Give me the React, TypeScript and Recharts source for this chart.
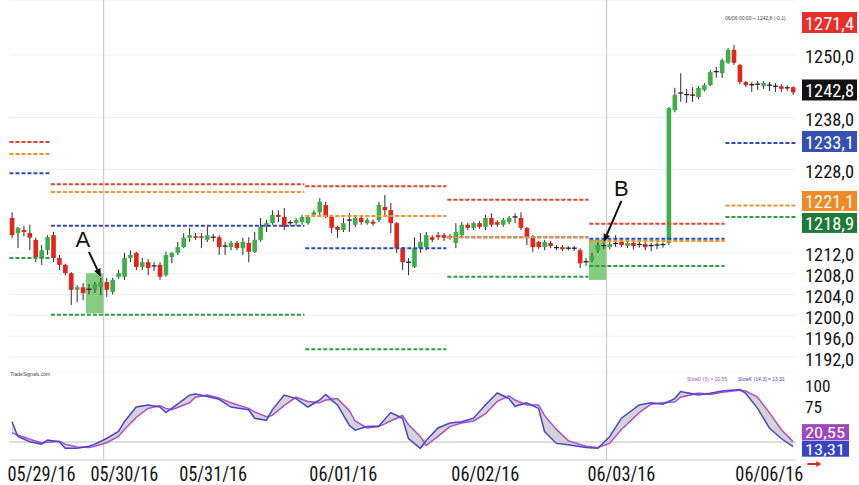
import React from 'react';
import {
  ComposedChart, Bar, XAxis, YAxis, ReferenceLine, ReferenceArea, Line, Area, Customized, CartesianGrid,
} from 'recharts';

const NARROW = '"Liberation Sans Narrow", "Roboto Condensed", "DejaVu Sans Condensed", "Liberation Sans", Arial, sans-serif';

// ---------- Candles (OHLC) ----------
const opens = [1218.7,1215.8,1216.4,1215.8,1214.5,1211.0,1212.5,1215.4,1211.0,1209.7,1208.1,1204.9,1205.4,1204.9,1204.9,1205.4,1206.4,1204.5,1207.4,1207.4,1211.0,1212.0,1209.3,1210.2,1209.3,1209.7,1207.7,1211.2,1212.0,1213.1,1214.9,1215.2,1215.2,1214.5,1215.0,1215.0,1213.1,1213.1,1213.9,1212.9,1213.9,1212.2,1214.5,1217.0,1217.7,1219.3,1218.9,1217.8,1217.7,1217.9,1217.7,1219.3,1219.8,1221.2,1218.9,1217.0,1216.4,1218.3,1217.4,1218.7,1217.7,1218.0,1218.3,1220.8,1220.2,1217.7,1212.9,1210.2,1209.3,1212.9,1213.1,1215.0,1215.4,1215.4,1215.2,1213.9,1215.4,1217.4,1216.8,1217.7,1217.0,1218.7,1217.9,1217.4,1217.9,1218.9,1218.7,1216.8,1214.9,1214.1,1213.1,1213.9,1213.0,1213.1,1212.9,1212.9,1212.5,1210.2,1210.6,1212.5,1213.3,1213.1,1213.7,1214.1,1213.3,1213.9,1213.5,1213.7,1213.3,1213.3,1213.5,1213.9,1239.4,1242.7,1242.3,1242.3,1241.9,1243.3,1244.2,1246.7,1246.5,1248.5,1251.0,1248.1,1244.8,1244.2,1244.4,1244.0,1244.2,1244.0,1244.0,1243.7,1243.8];
const highs = [1219.8,1217.0,1217.2,1217.4,1214.9,1213.5,1215.4,1216.0,1211.6,1209.9,1208.3,1205.8,1206.2,1206.0,1206.4,1207.2,1207.2,1207.2,1208.7,1212.0,1212.5,1212.2,1211.0,1210.8,1210.2,1210.2,1212.2,1212.2,1214.1,1215.8,1216.8,1215.8,1215.8,1217.0,1215.6,1215.4,1214.1,1214.3,1214.3,1214.9,1215.0,1216.0,1218.7,1218.3,1220.2,1220.2,1220.6,1218.3,1218.7,1219.3,1219.3,1220.2,1222.5,1221.8,1219.3,1217.2,1218.7,1219.6,1219.2,1219.2,1218.7,1218.4,1221.8,1223.1,1221.6,1217.9,1213.1,1211.0,1215.0,1215.8,1216.0,1215.4,1216.0,1215.8,1215.6,1217.7,1217.9,1217.8,1218.0,1218.1,1219.3,1219.6,1218.3,1218.7,1219.1,1219.6,1219.8,1217.0,1215.4,1214.3,1214.5,1214.3,1213.5,1213.5,1213.3,1213.3,1212.9,1211.0,1212.0,1214.0,1214.0,1214.3,1215.4,1214.5,1214.3,1214.3,1214.1,1214.1,1213.9,1214.0,1214.0,1240.0,1243.7,1246.5,1243.5,1243.8,1244.0,1244.6,1247.1,1247.7,1249.3,1251.3,1251.9,1248.3,1245.0,1244.8,1245.0,1245.0,1244.8,1244.6,1244.4,1244.2,1244.0];
const lows = [1214.9,1212.9,1215.2,1212.5,1210.2,1209.7,1211.6,1210.2,1208.7,1207.7,1202.0,1202.5,1202.9,1204.0,1204.3,1203.9,1203.5,1204.0,1207.0,1206.8,1210.2,1208.7,1208.7,1207.7,1208.5,1206.8,1207.4,1210.0,1211.6,1212.9,1214.1,1214.5,1212.9,1214.1,1214.2,1211.6,1211.6,1212.5,1212.5,1211.6,1210.2,1212.0,1214.1,1216.0,1217.4,1217.9,1216.4,1217.2,1217.2,1217.4,1217.4,1218.9,1218.9,1218.7,1215.8,1214.9,1216.0,1216.0,1217.0,1217.4,1217.4,1217.2,1217.9,1218.9,1215.8,1212.0,1208.7,1207.7,1209.1,1212.0,1212.5,1214.1,1214.5,1214.3,1214.5,1212.9,1215.0,1216.4,1216.4,1216.6,1216.4,1217.0,1217.0,1217.0,1217.5,1217.7,1216.4,1213.5,1212.2,1212.7,1212.5,1212.9,1212.5,1212.3,1212.5,1212.4,1209.1,1209.5,1210.2,1212.0,1212.7,1212.7,1213.1,1213.1,1212.9,1212.7,1213.0,1212.5,1212.3,1212.7,1213.0,1213.5,1239.0,1241.0,1240.8,1241.0,1241.5,1243.0,1244.0,1245.6,1245.6,1248.3,1248.1,1244.4,1243.9,1242.9,1243.3,1243.5,1243.1,1242.9,1242.9,1243.1,1242.3];
const closes = [1215.4,1216.8,1216.0,1214.9,1211.2,1212.5,1215.0,1211.0,1209.7,1208.1,1204.9,1205.4,1204.3,1205.0,1206.0,1206.4,1204.9,1206.8,1208.1,1211.0,1211.6,1209.3,1210.2,1209.1,1209.5,1207.4,1211.6,1212.0,1213.1,1214.9,1215.4,1214.9,1214.9,1215.4,1214.8,1213.1,1213.3,1213.9,1212.9,1214.1,1212.2,1214.5,1217.0,1217.7,1219.3,1218.9,1217.0,1217.7,1218.3,1218.9,1218.9,1219.8,1221.8,1218.9,1216.8,1216.4,1217.7,1218.2,1218.7,1217.9,1218.3,1217.6,1221.2,1220.2,1217.7,1212.9,1210.2,1210.0,1212.9,1214.1,1215.4,1214.5,1215.0,1214.9,1214.9,1216.0,1217.4,1216.8,1217.7,1217.0,1218.7,1217.4,1217.4,1218.3,1218.7,1218.8,1216.8,1215.0,1213.1,1213.1,1214.1,1213.3,1212.9,1212.7,1212.8,1212.8,1210.0,1210.3,1211.4,1213.5,1213.4,1213.7,1213.8,1213.5,1213.9,1213.3,1213.6,1213.1,1213.4,1213.5,1213.6,1239.8,1242.3,1242.6,1242.4,1242.1,1243.7,1244.2,1246.7,1246.8,1249.0,1251.0,1248.5,1244.8,1244.2,1244.3,1244.3,1244.6,1244.1,1244.0,1243.5,1243.6,1242.8];

// ---------- Daily pivot levels (segments of candle indices) ----------
const pivotStart = [0, 7, 50, 74, 98, 121];
const pivotEnd = [6, 49, 73, 97, 120, 132];
const pivotR1 = [1233.3, 1225.2, 1224.8, 1222.2, 1217.6, 1271.4];
const pivotPP = [1227.3, 1217.2, 1212.9, 1215.0, 1214.7, 1233.1];
const pivotO = [1231.0, 1223.7, 1219.1, 1215.0, 1214.3, 1221.1];
const pivotS1 = [1211.0, 1200.1, 1193.5, 1207.4, 1209.5, 1218.9];

// ---------- Price axis ----------
const priceTicks = [1250, 1238, 1228, 1212, 1208, 1204, 1200, 1196, 1192];
const lastPrice = 1242.8;

// ---------- Session separators, highlight boxes, arrows ----------
const sessionLines = [15, 100];
const boxes = [
  { x1: 13, x2: 15, y1: 1200.4, y2: 1208.1 },
  { x1: 98, x2: 100, y1: 1206.8, y2: 1214.5 },
];
const arrows = [
  { label: 'A', fromI: 13, fromP: 1212.2, toI: 15, toP: 1207.4 },
  { label: 'B', fromI: 103, fromP: 1222.0, toI: 100, toP: 1214.1 },
];

// ---------- Slow stochastic ----------
const stochIdx = [0,1,3,5,6,8,9,11,13,14,16,18,19,21,23,25,26,27,30,31,33,35,37,40,41,43,44,46,48,50,52,53,55,57,58,60,62,64,66,67,69,70,72,74,76,78,80,82,84,85,87,89,90,92,94,97,99,101,103,106,108,110,112,113,116,118,120,123,124,126,128,130,132];
const slowK = [49,28,20.5,17,22.8,20.5,11,11,14,17,25,35,49,70,73,70,62,68,87,88.6,85,81,70,66,54,51,66,87,82,70,80,88,73,44,37,42,43,62,54,25,11,22,40,47,49,54,73,90,82,71,76,68,35,18,16,12,11,27.6,54,73,76,74,82,92,87,89.6,93,95,89.6,68,40,25,13.31];
const slowD = [33,30,24,19,19.5,21,17,13,12,14,19,28,38,55,68,72,68,66,76,84,87,83,76,68,63,56,58,72,84,78,76,80,82,65,50,40,42,50,58,45,28,15,28,42,47,50,60,78,86,80,73,73,58,38,22,14,12,18,38,62,74,76,77,84,90,88,91,94,93,84,62,38,20.55];
const stochTicks = [100, 75];

// ---------- Date labels ----------
const dateIdx = [5, 19, 34, 56, 80, 103, 128];
const dateLabels = ['05/29/16', '05/30/16', '05/31/16', '06/01/16', '06/02/16', '06/03/16', '06/06/16'];

const rows = opens.map((o, i) => ({ i, o, h: highs[i], l: lows[i], c: closes[i] }));
const stochRows = stochIdx.map((i, j) => ({ i, k: slowK[j], d: slowD[j] }));

const comma = (v: number, d: number) => v.toFixed(d).replace('.', ',');

const Candle = (props: any) => {
  const { x, y, width, height, payload } = props;
  if (x == null || !payload) return null;
  const { o, h, l, c } = payload;
  let top = y;
  let bot = y + height;
  if (bot < top) { const t = top; top = bot; bot = t; }
  const py = (v: number) => (h === l ? top : top + ((h - v) / (h - l)) * (bot - top));
  const cx = x + width / 2;
  const yo = py(o);
  const yc = py(c);
  const bt = Math.min(yo, yc);
  const bh = Math.abs(yo - yc);
  const up = c >= o;
  return (
    <g>
      <line x1={cx} x2={cx} y1={top} y2={bot} stroke="#2b2b2b" strokeWidth={1} />
      {bh < 1.3 ? (
        <line x1={cx - 2.5} x2={cx + 2.5} y1={bt} y2={bt} stroke="#222" strokeWidth={1.3} />
      ) : (
        <rect x={cx - 2.3} y={bt} width={4.6} height={bh} fill={up ? '#3cae4a' : '#e3241b'} />
      )}
    </g>
  );
};

const dashedShape = (color: string) => (p: any) => (
  <line x1={p.x1 - 2.5} y1={p.y1} x2={p.x2 + 2.5} y2={p.y2} stroke={color} strokeWidth={2} strokeDasharray="4 2" />
);

const arrowShape = (label: string) => (p: any) => {
  const { x1, y1, x2, y2 } = p;
  const ang = Math.atan2(y2 - y1, x2 - x1);
  const L = 8;
  const W = 3.5;
  const bx = x2 - L * Math.cos(ang);
  const by = y2 - L * Math.sin(ang);
  const px = -Math.sin(ang) * W;
  const py = Math.cos(ang) * W;
  return (
    <g>
      <line x1={x1} y1={y1} x2={bx} y2={by} stroke="#111" strokeWidth={2} />
      <polygon points={`${x2},${y2} ${bx + px},${by + py} ${bx - px},${by - py}`} fill="#111" />
      <text x={label === 'A' ? x1 - 6 : x1} y={y1 - 5} textAnchor="middle" fontSize={22} fontFamily="Arial, 'Liberation Sans', sans-serif" fill="#111">{label}</text>
    </g>
  );
};

const charW = (s: string) => s.split('').reduce((a, ch) => a + (ch === ',' || ch === '/' ? (ch === '/' ? 7 : 4) : 9), 0);

const PriceTick = (p: any) => {
  const s = comma(p.payload.value, 1);
  return (
    <text x={p.x + 1} y={p.y + 2} fontSize={18} fontFamily={NARROW} fill="#141414" dominantBaseline="central" textLength={charW(s)} lengthAdjust="spacingAndGlyphs">{s}</text>
  );
};

const StochTick = (p: any) => {
  const s = String(p.payload.value);
  return (
    <text x={p.x + 1} y={p.y + (p.payload.value === 100 ? 0 : 3)} fontSize={17} fontFamily={NARROW} fill="#141414" dominantBaseline="central" textLength={charW(s) - 0.5 * s.length} lengthAdjust="spacingAndGlyphs">{s}</text>
  );
};

const DateTick = (p: any) => {
  const idx = dateIdx.indexOf(p.payload.value);
  const s = idx >= 0 ? dateLabels[idx] : '';
  const last = idx === dateLabels.length - 1;
  return (
    <g>
      <text x={p.x} y={p.y + 6} fontSize={21} fontFamily={NARROW} fill="#141414" textAnchor="middle" dominantBaseline="central" textLength={68} lengthAdjust="spacingAndGlyphs">{s}</text>
      {last ? (
        <polygon points={`${p.x + 38},${p.y - 5} ${p.x + 47},${p.y - 5} ${p.x + 47},${p.y - 7} ${p.x + 52},${p.y - 4} ${p.x + 47},${p.y - 1} ${p.x + 47},${p.y - 3} ${p.x + 38},${p.y - 3}`} fill="#e3241b" />
      ) : null}
    </g>
  );
};

const BoxLabel = (props: any) => {
  const { viewBox, text, fill, dy = 0, minY, boxW = 55, boxH = 21, fs = 19 } = props;
  if (!viewBox) return null;
  const right = viewBox.x + viewBox.width;
  let cy = viewBox.y + dy;
  if (minY != null) cy = Math.max(cy, minY);
  return (
    <g>
      <rect x={right + 6} y={cy - boxH / 2} width={boxW} height={boxH} fill={fill} />
      <text x={right + 9} y={cy + 1} fontSize={fs} fontFamily={NARROW} fill="#fff" dominantBaseline="central" textLength={charW(text)} lengthAdjust="spacingAndGlyphs">{text}</text>
    </g>
  );
};

const Header = () => (
  <text x={725} y={20} fontSize={5} fontFamily="Arial, sans-serif" fill="#444">06/06 00:00 ~ 1242,8 (-0,1)</text>
);

const StochHeader = () => (
  <g>
    <text x={10} y={4} fontSize={5} fontFamily="Arial, sans-serif" fill="#444">TradeSignals.com</text>
    <text x={687} y={9} fontSize={5} fontFamily="Arial, sans-serif" fill="#b04fc8">SlowD (3) = 20.55</text>
    <text x={738} y={9} fontSize={5} fontFamily="Arial, sans-serif" fill="#3c46c8">SlowK (14,3) = 13.31</text>
  </g>
);

export default function App() {
  const levels: { vals: number[]; color: string }[] = [
    { vals: pivotR1, color: '#e8402c' },
    { vals: pivotPP, color: '#3447b2' },
    { vals: pivotO, color: '#f3912e' },
    { vals: pivotS1, color: '#2f9d46' },
  ];
  return (
    <div style={{ position: 'absolute', left: 0, top: 0, width: 859, height: 485, background: '#fff' }}>
      <div style={{ position: 'absolute', left: 0, top: 0 }}>
        <ComposedChart width={859} height={372} data={rows} margin={{ top: 0, right: 0, left: 9, bottom: 0 }}>
          <CartesianGrid horizontal vertical={false} stroke="#f1f1f1" />
          <XAxis dataKey="i" hide />
          <YAxis
            orientation="right"
            width={63}
            domain={[1189.12, 1260.56]}
            ticks={priceTicks}
            allowDataOverflow
            axisLine={false}
            tickLine={false}
            tick={<PriceTick />}
            interval={0}
          />
          {sessionLines.map((s) => (
            <ReferenceLine key={'s' + s} x={s} position="end" stroke="#cdbfbf" strokeWidth={1} />
          ))}
          {levels.map((lv, li) =>
            pivotStart.map((s, k) => (
              <ReferenceLine
                key={`p${li}-${k}`}
                segment={[{ x: s, y: lv.vals[k] }, { x: pivotEnd[k], y: lv.vals[k] }]}
                stroke={lv.color}
                shape={dashedShape(lv.color)}
              />
            ))
          )}
          {boxes.map((b, k) => (
            <ReferenceArea key={'b' + k} x1={b.x1} x2={b.x2} y1={b.y1} y2={b.y2} fill="#55b84f" fillOpacity={0.72} stroke="none" />
          ))}
          <Bar dataKey={(d: any) => [d.l, d.h]} shape={<Candle />} isAnimationActive={false} />
          {arrows.map((a) => (
            <ReferenceLine
              key={'a' + a.label}
              segment={[{ x: a.fromI, y: a.fromP }, { x: a.toI, y: a.toP }]}
              stroke="#111"
              shape={arrowShape(a.label)}
            />
          ))}
          <ReferenceLine y={pivotR1[5]} stroke="none" ifOverflow="visible" label={<BoxLabel text={comma(pivotR1[5], 1)} fill="#e8302a" minY={22.5} />} />
          <ReferenceLine y={lastPrice} stroke="none" label={<BoxLabel text={comma(lastPrice, 1)} fill="#111" dy={-2.5} />} />
          <ReferenceLine y={pivotPP[5]} stroke="none" label={<BoxLabel text={comma(pivotPP[5], 1)} fill="#3550b0" dy={-1.5} />} />
          <ReferenceLine y={pivotO[5]} stroke="none" label={<BoxLabel text={comma(pivotO[5], 1)} fill="#f08a24" dy={-4.5} boxH={20} />} />
          <ReferenceLine y={pivotS1[5]} stroke="none" label={<BoxLabel text={comma(pivotS1[5], 1)} fill="#1f7a37" dy={6} boxH={20} />} />
          <Customized component={Header} />
        </ComposedChart>
      </div>
      <div style={{ position: 'absolute', left: 0, top: 372 }}>
        <ComposedChart width={859} height={113} data={stochRows} margin={{ top: 0, right: 0, left: 9, bottom: 0 }}>
          <XAxis
            type="number"
            dataKey="i"
            domain={[-0.5, 132.5]}
            ticks={dateIdx}
            interval={0}
            allowDataOverflow
            height={25}
            tickLine={false}
            axisLine={{ stroke: '#c8c8c8' }}
            tick={<DateTick />}
          />
          <YAxis
            orientation="right"
            width={63}
            domain={[-5.7, 120]}
            ticks={stochTicks}
            allowDataOverflow
            axisLine={false}
            tickLine={false}
            tick={<StochTick />}
            interval={0}
          />
          <ReferenceLine y={20} stroke="#bdbdbd" strokeWidth={1} />
          {sessionLines.map((s) => (
            <ReferenceLine key={'ss' + s} x={s + 0.5} stroke="#cdbfbf" strokeWidth={1} />
          ))}
          <Area
            type="linear"
            dataKey={(d: any) => [Math.min(d.k, d.d), Math.max(d.k, d.d)]}
            fill="#d4d4d4"
            fillOpacity={1}
            stroke="none"
            isAnimationActive={false}
          />
          <Line type="linear" dataKey="d" stroke="#b04fc8" strokeWidth={1.5} dot={false} isAnimationActive={false} />
          <Line type="linear" dataKey="k" stroke="#4a45d0" strokeWidth={1.5} dot={false} isAnimationActive={false} />
          <ReferenceLine y={slowD[slowD.length - 1]} stroke="none" label={<BoxLabel text={comma(slowD[slowD.length - 1], 2)} fill="#9e48bd" dy={-9.5} boxW={47} boxH={16} fs={15} />} />
          <ReferenceLine y={slowK[slowK.length - 1]} stroke="none" label={<BoxLabel text={comma(slowK[slowK.length - 1], 2)} fill="#3a43c4" dy={2} boxW={47} boxH={16} fs={15} />} />
          <Customized component={StochHeader} />
        </ComposedChart>
      </div>
    </div>
  );
}
